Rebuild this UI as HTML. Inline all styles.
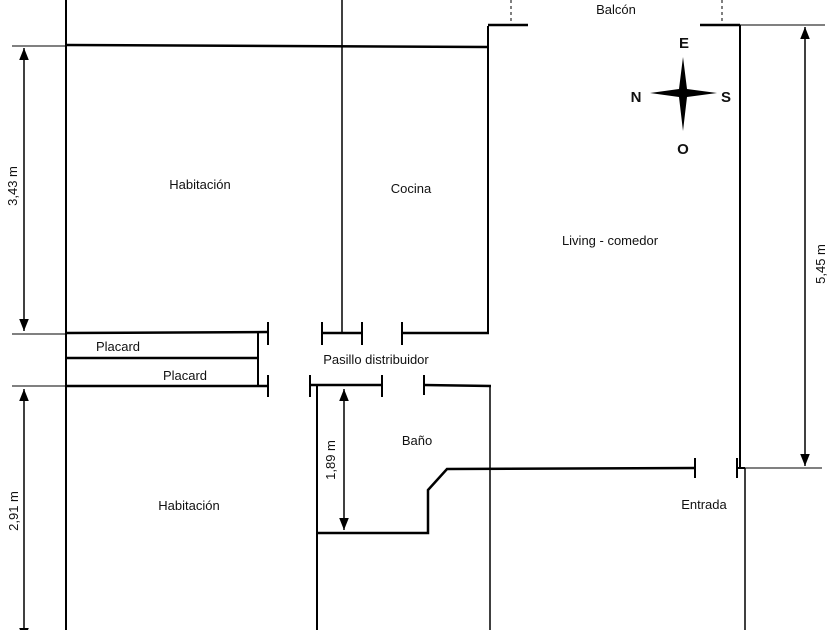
<!DOCTYPE html>
<html><head><meta charset="utf-8"><style>
html,body{margin:0;padding:0;background:#fff;}
svg text{font-family:"Liberation Sans",sans-serif;font-size:13px;fill:#111;}
</style></head><body>
<svg width="840" height="630" viewBox="0 0 840 630" xmlns="http://www.w3.org/2000/svg">
<defs>
<marker id="a" viewBox="0 0 10 10" refX="10" refY="5" markerWidth="8" markerHeight="10" orient="auto-start-reverse"><path d="M0,1 L10,5 L0,9 Z" fill="#000"/></marker>
</defs>
<g stroke="#000" fill="none">
<!-- thin vertical walls -->
<line x1="66" y1="0" x2="66" y2="630" stroke-width="2"/>
<line x1="342" y1="0" x2="342" y2="333" stroke-width="1.5"/>
<line x1="488" y1="26" x2="488" y2="333" stroke-width="2"/>
<line x1="740" y1="25" x2="740" y2="468" stroke-width="2"/>
<line x1="745" y1="468" x2="745" y2="630" stroke-width="1.5"/>
<line x1="317" y1="385" x2="317" y2="630" stroke-width="2"/>
<line x1="490" y1="385" x2="490" y2="630" stroke-width="1.5"/>
<!-- top wall -->
<line x1="66" y1="45" x2="488" y2="47" stroke-width="2.5"/>
<!-- balcony -->
<line x1="488" y1="25" x2="528" y2="25" stroke-width="2.5"/>
<line x1="700" y1="25" x2="740" y2="25" stroke-width="2.5"/>
<line x1="511" y1="0" x2="511" y2="25" stroke-width="1" stroke-dasharray="3,3"/>
<line x1="722" y1="0" x2="722" y2="25" stroke-width="1" stroke-dasharray="3,3"/>
<line x1="740" y1="25" x2="825" y2="25" stroke-width="1"/>
<!-- placards -->
<line x1="66" y1="333" x2="268" y2="332" stroke-width="2.5"/>
<line x1="268" y1="322" x2="268" y2="345" stroke-width="2"/>
<line x1="258" y1="333" x2="258" y2="385" stroke-width="2"/>
<line x1="66" y1="358" x2="258" y2="358" stroke-width="2.5"/>
<line x1="66" y1="386" x2="268" y2="386" stroke-width="2.5"/>
<line x1="268" y1="375" x2="268" y2="397" stroke-width="2"/>
<!-- kitchen door -->
<line x1="322" y1="322" x2="322" y2="345" stroke-width="2"/>
<line x1="322" y1="333" x2="362" y2="333" stroke-width="2.5"/>
<line x1="362" y1="322" x2="362" y2="345" stroke-width="2"/>
<line x1="402" y1="322" x2="402" y2="345" stroke-width="2"/>
<line x1="402" y1="333" x2="489" y2="333" stroke-width="2.5"/>
<!-- bath top -->
<line x1="310" y1="375" x2="310" y2="397" stroke-width="2"/>
<line x1="310" y1="385" x2="382" y2="385" stroke-width="2.5"/>
<line x1="382" y1="375" x2="382" y2="397" stroke-width="2"/>
<line x1="424" y1="375" x2="424" y2="395" stroke-width="2"/>
<line x1="424" y1="385" x2="491" y2="386" stroke-width="2.5"/>
<!-- bath inner -->
<polyline points="317,533 428,533 428,490 447,469 695,468" stroke-width="2.5"/>
<line x1="695" y1="458" x2="695" y2="478" stroke-width="2"/>
<line x1="737" y1="458" x2="737" y2="478" stroke-width="2"/>
<line x1="737" y1="468" x2="745" y2="468" stroke-width="2"/>
<line x1="745" y1="468" x2="822" y2="468" stroke-width="1"/>
<!-- dimension extension lines -->
<line x1="12" y1="46" x2="66" y2="46" stroke-width="1"/>
<line x1="12" y1="334" x2="66" y2="334" stroke-width="1"/>
<line x1="12" y1="386" x2="66" y2="386" stroke-width="1"/>
<!-- dimensions -->
<line x1="24" y1="48" x2="24" y2="331" stroke-width="1.5" marker-start="url(#a)" marker-end="url(#a)"/>
<line x1="24" y1="389" x2="24" y2="640" stroke-width="1.5" marker-start="url(#a)" marker-end="url(#a)"/>
<line x1="805" y1="27" x2="805" y2="466" stroke-width="1.5" marker-start="url(#a)" marker-end="url(#a)"/>
<line x1="344" y1="389" x2="344" y2="530" stroke-width="1.5" marker-start="url(#a)" marker-end="url(#a)"/>
</g>
<!-- compass -->
<path d="M683,57 L687,89 L717,93 L687,97 L683,131 L679,97 L650,93 L679,89 Z" fill="#000"/>
<g style="font-weight:bold;font-size:15px" text-anchor="middle">
<text x="684" y="48" style="font-weight:bold;font-size:15px">E</text>
<text x="636" y="102" style="font-weight:bold;font-size:15px">N</text>
<text x="726" y="102" style="font-weight:bold;font-size:15px">S</text>
<text x="683" y="154" style="font-weight:bold;font-size:15px">O</text>
</g>
<g text-anchor="middle">
<text x="616" y="14">Balcón</text>
<text x="200" y="189">Habitación</text>
<text x="411" y="193">Cocina</text>
<text x="610" y="245">Living - comedor</text>
<text x="118" y="351">Placard</text>
<text x="185" y="380">Placard</text>
<text x="376" y="364">Pasillo distribuidor</text>
<text x="417" y="445">Baño</text>
<text x="189" y="510">Habitación</text>
<text x="704" y="509">Entrada</text>
<text transform="translate(17,186) rotate(-90)">3,43 m</text>
<text transform="translate(18,511) rotate(-90)">2,91 m</text>
<text transform="translate(335,460) rotate(-90)">1,89 m</text>
<text transform="translate(825,264) rotate(-90)">5,45 m</text>
</g>
</svg>
</body></html>
